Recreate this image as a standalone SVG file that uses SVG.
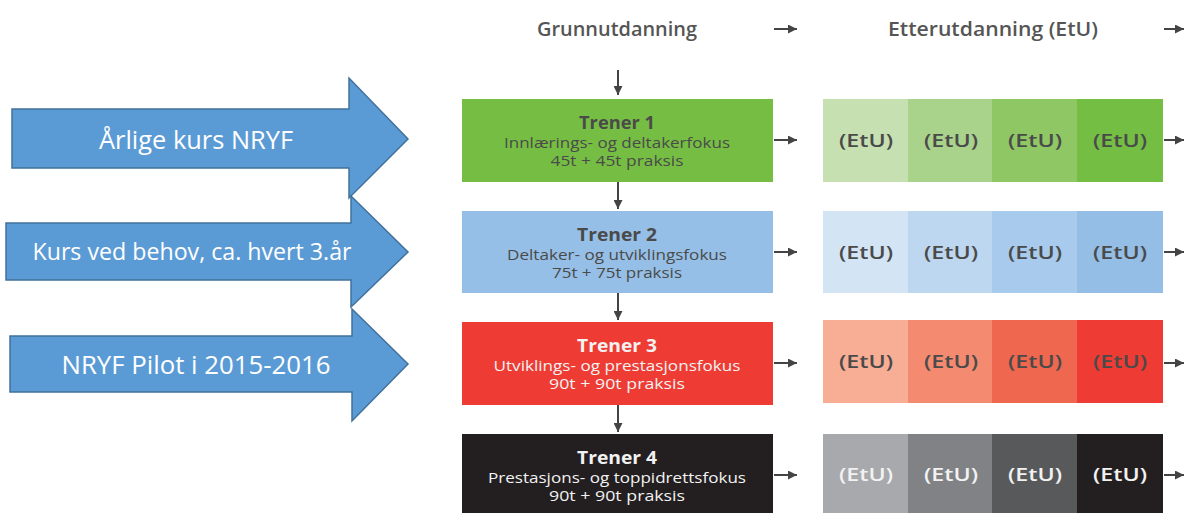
<svg xmlns="http://www.w3.org/2000/svg" width="1184" height="513" viewBox="0 0 1184 513">
<defs>
<style>
.hdr{font-family:"Open Sans","Liberation Sans",sans-serif;font-weight:600;font-size:19px;fill:#555;text-anchor:middle}
.tt{font-family:"Open Sans","Liberation Sans",sans-serif;font-weight:700;font-size:18px;text-anchor:middle}
.ts{font-family:"Open Sans","Liberation Sans",sans-serif;font-weight:400;font-size:15px;text-anchor:middle}
.etu{font-family:"Open Sans","Liberation Sans",sans-serif;font-weight:600;font-size:18px;text-anchor:middle}
.dark{fill:#4a4a4a}
.light{fill:#f2f2f2}
.big{fill:#5B9BD5;stroke:#41719C;stroke-width:1.5}
.bt{font-family:"Open Sans","Liberation Sans",sans-serif;fill:#fff;text-anchor:middle}
.con{stroke:#444;stroke-width:2;fill:none}
</style>
<marker id="ah" viewBox="0 0 10 10" refX="10" refY="5" markerWidth="4.5" markerHeight="4.5" orient="auto" markerUnits="strokeWidth">
<path d="M0,0 L10,5 L0,10 z" fill="#444"/>
</marker>
</defs>
<rect width="1184" height="513" fill="#fff"/>

<g id="hdr-grunn"><text class="hdr" x="617" y="36" textLength="160" lengthAdjust="spacingAndGlyphs">Grunnutdanning</text></g>
<g id="hdr-etter"><text class="hdr" x="993" y="36" textLength="210" lengthAdjust="spacingAndGlyphs">Etterutdanning (EtU)</text></g>

<g id="big1"><path class="big" d="M12,109 H349 V78 L408,139 L349,198 V168 H12 Z"/><text class="bt" x="196" y="149" font-size="25" textLength="194" lengthAdjust="spacingAndGlyphs">Årlige kurs NRYF</text></g>
<g id="big2"><path class="big" d="M6,223 H351 V196 L408,252 L351,307 V280 H6 Z"/><text class="bt" x="192" y="260" font-size="23" textLength="319" lengthAdjust="spacingAndGlyphs">Kurs ved behov, ca. hvert 3.år</text></g>
<g id="big3"><path class="big" d="M10,336 H352 V309 L408,364 L352,421 V392 H10 Z"/><text class="bt" x="196" y="374" font-size="25" textLength="269" lengthAdjust="spacingAndGlyphs">NRYF Pilot i 2015-2016</text></g>

<g id="trener1"><rect x="462" y="99" width="311" height="83" fill="#76BE43"/>
<text class="tt dark" x="617" y="129" textLength="76" lengthAdjust="spacingAndGlyphs">Trener 1</text>
<text class="ts dark" x="617" y="148" textLength="226" lengthAdjust="spacingAndGlyphs">Innlærings- og deltakerfokus</text>
<text class="ts dark" x="617" y="166" textLength="133" lengthAdjust="spacingAndGlyphs">45t + 45t praksis</text></g>
<g id="trener2"><rect x="462" y="211" width="311" height="82" fill="#95BFE6"/>
<text class="tt dark" x="617" y="241" textLength="80" lengthAdjust="spacingAndGlyphs">Trener 2</text>
<text class="ts dark" x="617" y="260" textLength="220" lengthAdjust="spacingAndGlyphs">Deltaker- og utviklingsfokus</text>
<text class="ts dark" x="617" y="278" textLength="130" lengthAdjust="spacingAndGlyphs">75t + 75t praksis</text></g>
<g id="trener3"><rect x="462" y="322" width="311" height="83" fill="#EE3B33"/>
<text class="tt light" x="617" y="352" textLength="80" lengthAdjust="spacingAndGlyphs">Trener 3</text>
<text class="ts light" x="617" y="371" textLength="247" lengthAdjust="spacingAndGlyphs">Utviklings- og prestasjonsfokus</text>
<text class="ts light" x="617" y="389" textLength="136" lengthAdjust="spacingAndGlyphs">90t + 90t praksis</text></g>
<g id="trener4"><rect x="462" y="434" width="311" height="79" fill="#231F20"/>
<text class="tt light" x="617" y="464" textLength="80" lengthAdjust="spacingAndGlyphs">Trener 4</text>
<text class="ts light" x="617" y="483" textLength="258" lengthAdjust="spacingAndGlyphs">Prestasjons- og toppidrettsfokus</text>
<text class="ts light" x="617" y="501" textLength="136" lengthAdjust="spacingAndGlyphs">90t + 90t praksis</text></g>

<g id="etu1">
<rect x="823" y="99" width="85" height="83" fill="#C6E0B2"/><rect x="908" y="99" width="84" height="83" fill="#A9D28B"/><rect x="992" y="99" width="85" height="83" fill="#8FC765"/><rect x="1077" y="99" width="86" height="83" fill="#74BE44"/>
<text class="etu dark" x="866" y="147" textLength="54" lengthAdjust="spacingAndGlyphs">(EtU)</text><text class="etu dark" x="951" y="147" textLength="54" lengthAdjust="spacingAndGlyphs">(EtU)</text><text class="etu dark" x="1035" y="147" textLength="54" lengthAdjust="spacingAndGlyphs">(EtU)</text><text class="etu dark" x="1120" y="147" textLength="54" lengthAdjust="spacingAndGlyphs">(EtU)</text></g>
<g id="etu2">
<rect x="823" y="211" width="85" height="82" fill="#D3E4F5"/><rect x="908" y="211" width="84" height="82" fill="#BED7F0"/><rect x="992" y="211" width="85" height="82" fill="#A8CAEC"/><rect x="1077" y="211" width="86" height="82" fill="#94BEE5"/>
<text class="etu dark" x="866" y="259" textLength="54" lengthAdjust="spacingAndGlyphs">(EtU)</text><text class="etu dark" x="951" y="259" textLength="54" lengthAdjust="spacingAndGlyphs">(EtU)</text><text class="etu dark" x="1035" y="259" textLength="54" lengthAdjust="spacingAndGlyphs">(EtU)</text><text class="etu dark" x="1120" y="259" textLength="54" lengthAdjust="spacingAndGlyphs">(EtU)</text></g>
<g id="etu3">
<rect x="823" y="320" width="85" height="83" fill="#F8AD95"/><rect x="908" y="320" width="84" height="83" fill="#F48B70"/><rect x="992" y="320" width="85" height="83" fill="#F0674F"/><rect x="1077" y="320" width="86" height="83" fill="#EE3B33"/>
<text class="etu dark" x="866" y="368" textLength="54" lengthAdjust="spacingAndGlyphs">(EtU)</text><text class="etu dark" x="951" y="368" textLength="54" lengthAdjust="spacingAndGlyphs">(EtU)</text><text class="etu dark" x="1035" y="368" textLength="54" lengthAdjust="spacingAndGlyphs">(EtU)</text><text class="etu dark" x="1120" y="368" textLength="54" lengthAdjust="spacingAndGlyphs">(EtU)</text></g>
<g id="etu4">
<rect x="823" y="434" width="85" height="79" fill="#A7A9AC"/><rect x="908" y="434" width="84" height="79" fill="#808285"/><rect x="992" y="434" width="85" height="79" fill="#58595B"/><rect x="1077" y="434" width="86" height="79" fill="#231F20"/>
<text class="etu light" x="866" y="481" textLength="54" lengthAdjust="spacingAndGlyphs">(EtU)</text><text class="etu light" x="951" y="481" textLength="54" lengthAdjust="spacingAndGlyphs">(EtU)</text><text class="etu light" x="1035" y="481" textLength="54" lengthAdjust="spacingAndGlyphs">(EtU)</text><text class="etu light" x="1120" y="481" textLength="54" lengthAdjust="spacingAndGlyphs">(EtU)</text></g>

<g id="connectors">
<line class="con" x1="774" y1="29" x2="797" y2="29" marker-end="url(#ah)"/>
<line class="con" x1="1164" y1="29" x2="1184" y2="29" marker-end="url(#ah)"/>
<line class="con" x1="618" y1="70" x2="618" y2="95" marker-end="url(#ah)"/>
<line class="con" x1="618" y1="182" x2="618" y2="209" marker-end="url(#ah)"/>
<line class="con" x1="618" y1="293" x2="618" y2="320" marker-end="url(#ah)"/>
<line class="con" x1="618" y1="405" x2="618" y2="432" marker-end="url(#ah)"/>
<line class="con" x1="774" y1="140" x2="797" y2="140" marker-end="url(#ah)"/>
<line class="con" x1="774" y1="252" x2="797" y2="252" marker-end="url(#ah)"/>
<line class="con" x1="774" y1="363" x2="797" y2="363" marker-end="url(#ah)"/>
<line class="con" x1="774" y1="475" x2="797" y2="475" marker-end="url(#ah)"/>
<line class="con" x1="1164" y1="140" x2="1184" y2="140" marker-end="url(#ah)"/>
<line class="con" x1="1164" y1="252" x2="1184" y2="252" marker-end="url(#ah)"/>
<line class="con" x1="1164" y1="363" x2="1184" y2="363" marker-end="url(#ah)"/>
<line class="con" x1="1164" y1="475" x2="1184" y2="475" marker-end="url(#ah)"/>
</g>
</svg>
